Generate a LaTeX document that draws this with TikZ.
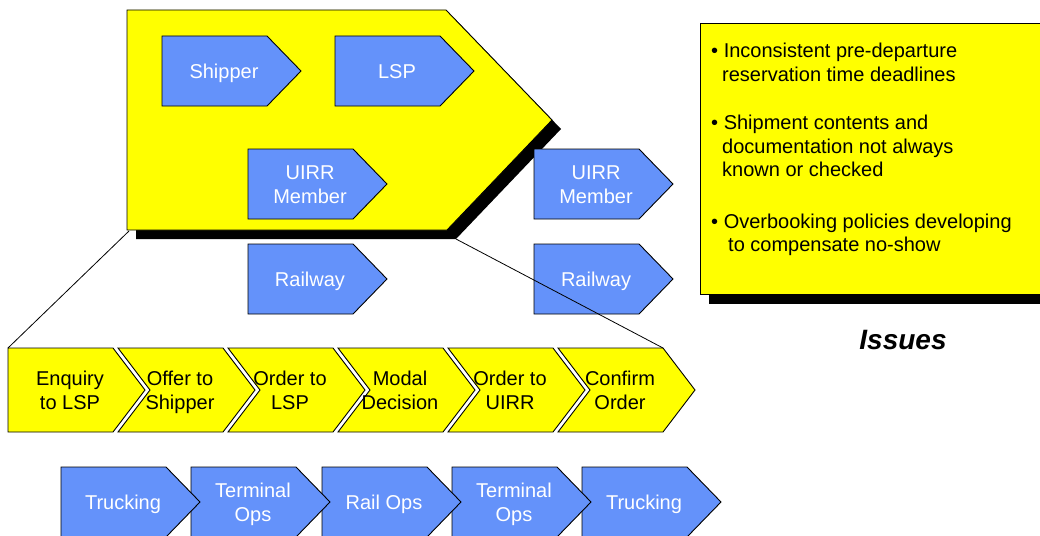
\documentclass[tikz,border=0pt]{standalone}
\usepackage{fontspec}
\setmainfont{Liberation Sans}
\definecolor{chevblue}{RGB}{100,146,250}
\definecolor{padyellow}{RGB}{255,255,0}

% Blue home-plate arrow: name, left x, top y, label
\newcommand\homeplate[4]{%
  \path[bluefill] (#2,#3) -- ++(105,0) -- ++(34,35) -- ++(-34,35) -- ++(-105,0) -- cycle;
  \node[bluetext] (#1) at (#2+62,#3+37.5) {#4\vphantom{p}};}

% Yellow process chevron: name, left x, notch depth, label
\newcommand\stepchevron[4]{%
  \path[yellowfill] (#2,348) -- ++(105,0) -- ++(32,42) -- ++(-32,42) -- ++(-105,0) -- ++(#3,-42) -- cycle;
  \node[yellowtext] (#1) at (#2+62,392.5) {#4\vphantom{p}};}

\begin{document}
\begin{tikzpicture}[x=1pt,y=-1pt,
  outline/.style={draw=black,line width=0.9pt,line join=miter},
  bluefill/.style={outline,fill=chevblue},
  yellowfill/.style={outline,fill=padyellow},
  shadowfill/.style={fill=black},
  labelfont/.style={font=\fontsize{20}{23.5}\selectfont},
  bluetext/.style={labelfont,text=white,align=center,inner sep=0pt},
  yellowtext/.style={labelfont,text=black,align=center,inner sep=0pt},
  issueline/.style={labelfont,text=black,anchor=base west,inner sep=0pt},
  link/.style={draw=black,line width=0.8pt}]

\useasboundingbox (0,0) rectangle (1040,535);
\clip (0,0) rectangle (1040,535);

% participants pentagon with drop shadow
\path[shadowfill] (136,19) -- (455,19) -- (561,129) -- (456,239) -- (136,239) -- cycle;
\path[yellowfill] (127,10) -- (446,10) -- (552,120) -- (447,230) -- (127,230) -- cycle;
\coordinate (penta-sw) at (129,231);
\coordinate (shadow-se) at (456,239);

% issues panel with drop shadow
\path[shadowfill] (709,33) rectangle (1060,304);
\path[yellowfill] (700,23) rectangle (1050,294);

% participants
\homeplate{shipper}{162}{36}{Shipper}
\homeplate{lsp}{335}{36}{LSP}
\homeplate{uirrA}{248}{149}{UIRR\\Member}
\homeplate{railA}{248}{244}{Railway}
\homeplate{uirrB}{534}{149}{UIRR\\Member}
\homeplate{railB}{534}{244}{Railway}

% booking process
\stepchevron{enquiry}{8}{0}{Enquiry\\to LSP}
\stepchevron{offer}{118}{32}{Offer to\\Shipper}
\stepchevron{orderlsp}{228}{32}{Order to\\LSP}
\stepchevron{modal}{338}{32}{Modal\\Decision}
\stepchevron{orderuirr}{448}{32}{Order to\\UIRR}
\stepchevron{confirm}{558}{32}{Confirm\\Order}
\coordinate (enquiry-nw) at (8,348);
\coordinate (confirm-ne) at (663,348);

% transport chain (right to left so each point overlaps its successor)
\homeplate{truckB}{582}{467}{Trucking}
\homeplate{termB}{452}{467}{Terminal\\Ops}
\homeplate{railops}{322}{467}{Rail Ops}
\homeplate{termA}{191}{467}{Terminal\\Ops}
\homeplate{truckA}{61}{467}{Trucking}

% zoom lines from the pentagon to the process row
\draw[link] (penta-sw) -- (enquiry-nw);
\draw[link] (shadow-se) -- (confirm-ne);

% issue list
\node[issueline] (iss1) at (711,58) {\textbullet\ Inconsistent pre-departure};
\node[issueline] (iss2) at (722,81.5) {reservation time deadlines};
\node[issueline] (iss3) at (711,129) {\textbullet\ Shipment contents and};
\node[issueline] (iss4) at (722,153) {documentation not always};
\node[issueline] (iss5) at (722,176.5) {known or checked};
\node[issueline] (iss6) at (711,228) {\textbullet\ Overbooking policies developing};
\node[issueline] (iss7) at (728,251) {to compensate no-show};

\node[font=\fontsize{28}{32}\selectfont\bfseries\itshape,inner sep=0pt] (issues) at (903,340) {Issues};
\end{tikzpicture}
\end{document}
